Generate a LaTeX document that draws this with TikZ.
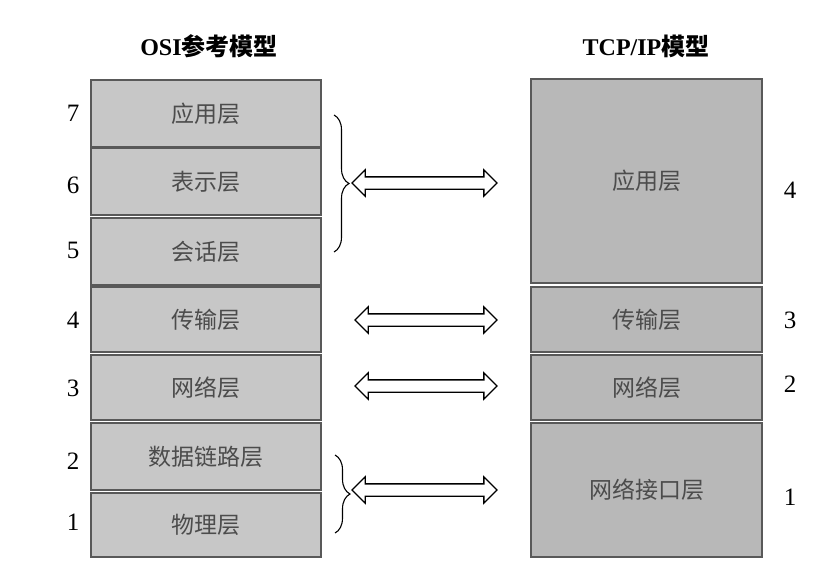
\documentclass[tikz,border=0pt]{standalone}
\usepackage{fontspec}
\setmainfont{Liberation Serif}
\newfontfamily\cjk{Noto Sans CJK SC}
\usetikzlibrary{shapes.arrows,decorations.pathreplacing}

\definecolor{osigray}{gray}{0.78}
\definecolor{tcpgray}{gray}{0.72}
\definecolor{edgegray}{gray}{0.35}
\definecolor{txtgray}{gray}{0.3}

\tikzset{
  layer/.style={draw=edgegray, line width=1.4pt, minimum width=230pt, inner sep=0pt,
    text=txtgray, font=\cjk\fontsize{23}{26}\selectfont},
  num/.style={font=\fontsize{25}{28}\selectfont},
  title/.style={font=\bfseries\fontsize{24}{28}\selectfont},
  dblarrow/.style={double arrow, draw=black, line width=1.3pt, fill=white, inner sep=5.5pt,
    minimum width=25pt, double arrow head extend=7pt},
  layerbrace/.style={decorate, decoration={brace, amplitude=15pt}, line width=1.1pt}
}

\begin{document}
\begin{tikzpicture}[x=1pt,y=-1pt]
  \useasboundingbox (0,0) rectangle (822,583);

  % titles
  \node[title] (osititle) at (209,46) {OSI{\cjk 参考模型}};
  \node[title] (tcptitle) at (646,46) {TCP/IP{\cjk 模型}};

  % OSI reference model
  \foreach \n/\name/\top/\bot/\ny in {7/应用层/80/147/113, 6/表示层/148/215/185,
      5/会话层/218/285/250, 4/传输层/287/352/320, 3/网络层/355/420/388,
      2/数据链路层/423/490/461, 1/物理层/493/557/522}{
    \node[layer, fill=osigray, minimum height={(\bot-\top)*1pt}] (osi\n) at (206,{(\top+\bot)/2}) {\name};
    \node[num] (osinum\n) at (73,\ny) {\n};
  }

  % TCP/IP model
  \foreach \n/\name/\top/\bot/\ny in {4/应用层/79/283/190, 3/传输层/287/352/320,
      2/网络层/355/420/384, 1/网络接口层/423/557/497}{
    \node[layer, fill=tcpgray, minimum width=231pt, minimum height={(\bot-\top)*1pt}] (tcp\n) at (646.5,{(\top+\bot)/2}) {\name};
    \node[num] (tcpnum\n) at (790,\ny) {\n};
  }

  % braces
  \draw[layerbrace] (334,115) -- (334,252);
  \draw[layerbrace] (335,455) -- (335,533);

  % arrows
  \node[dblarrow, minimum height=145pt] (arr4) at (424.5,183) {};
  \node[dblarrow, minimum height=142pt] (arr3) at (426,320) {};
  \node[dblarrow, minimum height=142pt] (arr2) at (426,386) {};
  \node[dblarrow, minimum height=145pt] (arr1) at (424.5,490) {};
\end{tikzpicture}
\end{document}
